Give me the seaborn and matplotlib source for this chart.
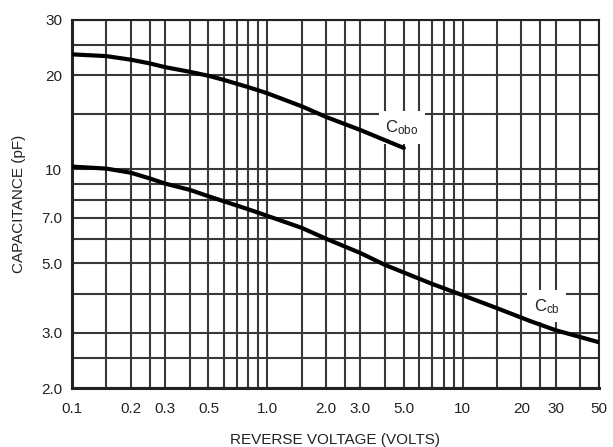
import matplotlib
matplotlib.use("Agg")
import matplotlib.pyplot as plt
import seaborn as sns
import pandas as pd

# Reverse voltage (V) and capacitance (pF) for each curve
v_cobo = [0.1, 0.15, 0.2, 0.25, 0.3, 0.4, 0.5, 0.6, 0.8, 1.0, 1.5, 2.0, 3.0, 5.0]
c_cobo = [23.3, 23.0, 22.4, 21.8, 21.2, 20.5, 19.9, 19.3, 18.3, 17.5, 15.9, 14.7, 13.35, 11.7]

v_ccb = [0.1, 0.15, 0.2, 0.25, 0.3, 0.4, 0.5, 0.6, 0.8, 1.0, 1.5, 2.0, 3.0, 4.0,
         7.0, 10, 15, 22, 30, 50]
c_ccb = [10.2, 10.05, 9.75, 9.35, 9.0, 8.6, 8.2, 7.9, 7.45, 7.1, 6.5, 6.0, 5.4, 4.95,
         4.3, 3.96, 3.6, 3.28, 3.06, 2.8]

x_grid = [0.1, 0.15, 0.2, 0.25, 0.3, 0.4, 0.5, 0.6, 0.7, 0.8, 0.9, 1.0, 1.5, 2.0, 2.5,
          3.0, 4.0, 5.0, 6.0, 7.0, 8.0, 9.0, 10, 15, 20, 25, 30, 40, 50]
y_grid = [2.0, 2.5, 3.0, 4.0, 5.0, 6.0, 7.0, 8.0, 9.0, 10, 15, 20, 25, 30]

x_ticks = [0.1, 0.2, 0.3, 0.5, 1.0, 2.0, 3.0, 5.0, 10, 20, 30, 50]
x_labels = ["0.1", "0.2", "0.3", "0.5", "1.0", "2.0", "3.0", "5.0", "10", "20", "30", "50"]
y_ticks = [2.0, 3.0, 5.0, 7.0, 10, 20, 30]
y_labels = ["2.0", "3.0", "5.0", "7.0", "10", "20", "30"]

sns.set_theme(style="white")
plt.rcParams["font.family"] = ["Liberation Sans Narrow", "Liberation Sans", "DejaVu Sans"]
plt.rcParams["mathtext.default"] = "regular"

df = pd.concat([
    pd.DataFrame({"voltage": v_cobo, "capacitance": c_cobo, "curve": "Cobo"}),
    pd.DataFrame({"voltage": v_ccb, "capacitance": c_ccb, "curve": "Ccb"}),
])

fig = plt.figure(figsize=(6.13, 4.47), dpi=100)
ax = fig.add_axes([72 / 613, 1 - 388 / 447, (599 - 72) / 613, (388 - 20) / 447])
ax.set_xscale("log")
ax.set_yscale("log")
ax.set_xlim(0.1, 50)
ax.set_ylim(2.0, 30)

grid_kw = dict(color="#383838", lw=1.5, zorder=1)
for gx in x_grid:
    ax.axvline(gx, **grid_kw)
for gy in y_grid:
    ax.axhline(gy, **grid_kw)

sns.lineplot(data=df, x="voltage", y="capacitance", hue="curve",
             palette={"Cobo": "black", "Ccb": "black"}, sort=True,
             linewidth=3.0, legend=False, ax=ax, zorder=4)

box = dict(boxstyle="square,pad=0.4", fc="white", ec="none")
ax.text(4.9, 13.6, "C$_{obo}$", fontsize=12, color="#222222", ha="center", va="center",
        bbox=box, zorder=3)
ax.text(27.0, 3.65, "C$_{cb}$", fontsize=12, color="#222222", ha="center", va="center",
        bbox=box, zorder=3)

ax.set_xticks(x_ticks)
ax.set_xticklabels(x_labels)
ax.set_yticks(y_ticks)
ax.set_yticklabels(y_labels)
ax.minorticks_off()
ax.tick_params(axis="both", length=0, labelsize=11, colors="#222222", pad=7)
ax.tick_params(axis="x", pad=10)

for s in ax.spines.values():
    s.set_color("#222222")
    s.set_linewidth(1.5)
ax.spines["left"].set_linewidth(2.2)
ax.spines["bottom"].set_linewidth(2.2)

ax.set_xlabel("REVERSE VOLTAGE (VOLTS)", fontsize=11, color="#222222", labelpad=12)
ax.set_ylabel("CAPACITANCE (pF)", fontsize=11, color="#222222", labelpad=11)

fig.savefig("out.png", dpi=100)
